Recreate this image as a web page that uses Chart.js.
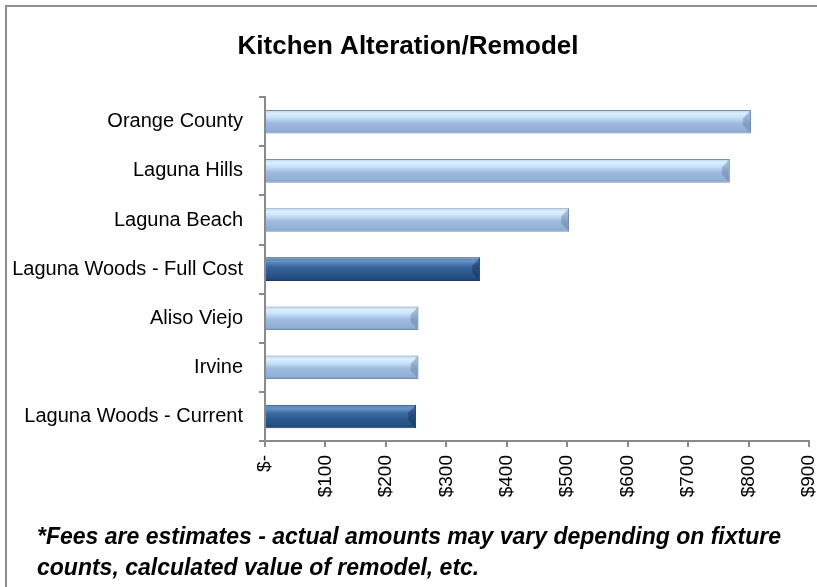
<!DOCTYPE html>
<html>
<head>
<meta charset="utf-8">
<script src="https://cdn.jsdelivr.net/npm/chart.js@4.4.1/dist/chart.umd.min.js"></script>
<style>
  html, body { margin: 0; padding: 0; background: #fff; overflow: hidden; }
  #wrap { position: relative; width: 817px; height: 587px; }
  #frame { position: absolute; left: 5px; top: 5px; width: 900px; height: 700px; border: 2px solid #8e8e8e; box-sizing: border-box; pointer-events: none; }
  canvas { position: absolute; left: 0; top: 0; }
  #note { position: absolute; left: 37px; top: 521px; font-family: 'Liberation Sans', Arial, sans-serif; font-size: 23px; font-weight: bold; font-style: italic; line-height: 31px; color: #000; white-space: nowrap; }
</style>
</head>
<body>
<div id="wrap">
  <canvas id="c" width="817" height="587"></canvas>
  <div id="note"></div>
  <div id="frame"></div>
</div>
<script>
// ---- data ----
const categories = ["Orange County", "Laguna Hills", "Laguna Beach", "Laguna Woods - Full Cost", "Aliso Viejo", "Irvine", "Laguna Woods - Current"];
const fees = [804, 769, 503, 356, 254, 254, 250];
const xTickValues = [0, 100, 200, 300, 400, 500, 600, 700, 800, 900];
const chartTitle = "Kitchen Alteration/Remodel";
const footnoteLines = ["*Fees are estimates - actual amounts may vary depending on fixture", "counts, calculated value of remodel, etc."];

const BAR_FRAC = 0.48;
const FONT = "'Liberation Sans', Arial, sans-serif";

document.getElementById('note').innerHTML = footnoteLines.map(s => s.replace(/&/g, '&amp;').replace(/</g, '&lt;')).join('<br>');

function isDark(i) { return categories[i].indexOf("Laguna Woods") === 0; }

function barFill(ctx) {
  const chart = ctx.chart;
  const dark = isDark(ctx.dataIndex);
  const fallback = dark ? '#2f5d93' : '#9fbde0';
  const ys = chart.scales && chart.scales.y;
  if (!ys || !chart.chartArea) return fallback;
  const c = ys.getPixelForValue(ctx.dataIndex);
  const half = ys.height / categories.length * BAR_FRAC / 2;
  if (!isFinite(c) || !isFinite(half)) return fallback;
  const g = chart.ctx.createLinearGradient(0, c - half, 0, c + half);
  if (dark) {
    g.addColorStop(0, '#5a86bb');
    g.addColorStop(0.18, '#6592c6');
    g.addColorStop(0.35, '#3f6ca2');
    g.addColorStop(0.6, '#2b5a90');
    g.addColorStop(0.88, '#244e80');
    g.addColorStop(1, '#1b3e66');
  } else {
    g.addColorStop(0, '#b7d0ec');
    g.addColorStop(0.15, '#dcf1ff');
    g.addColorStop(0.35, '#c3ddf6');
    g.addColorStop(0.55, '#9dbce0');
    g.addColorStop(0.88, '#92b0d5');
    g.addColorStop(1, '#7894b8');
  }
  return g;
}

// bevel on the right bar ends, drawn from the library's bar elements
const bevelPlugin = {
  id: 'bevel',
  afterDatasetsDraw(chart) {
    const meta = chart.getDatasetMeta(0);
    const ctx = chart.ctx;
    meta.data.forEach((bar, i) => {
      const p = bar.getProps(['x', 'y', 'base', 'height'], true);
      const top = p.y - p.height / 2 + 0.5, bot = p.y + p.height / 2 - 0.5;
      const b = Math.min(8, p.height / 3);
      const dark = isDark(i);
      ctx.save();
      ctx.beginPath();
      ctx.moveTo(p.x - b, top + b);
      ctx.lineTo(p.x - 0.5, top);
      ctx.lineTo(p.x - 0.5, bot);
      ctx.lineTo(p.x - b, bot - b);
      ctx.closePath();
      ctx.fillStyle = dark ? 'rgba(20,45,80,0.45)' : 'rgba(100,125,160,0.45)';
      ctx.fill();
      ctx.restore();
    });
  }
};

new Chart(document.getElementById('c'), {
  type: 'bar',
  data: {
    labels: categories,
    datasets: [{
      data: fees,
      backgroundColor: barFill,
      borderColor: (ctx) => isDark(ctx.dataIndex) ? '#1d3d63' : '#7390b3',
      borderWidth: 1,
      borderSkipped: 'start',
      categoryPercentage: 1,
      barPercentage: BAR_FRAC
    }]
  },
  options: {
    indexAxis: 'y',
    responsive: false,
    animation: false,
    devicePixelRatio: 1,
    layout: { padding: { left: 7, right: 8, top: 0, bottom: 66 } },
    plugins: {
      legend: { display: false },
      tooltip: { enabled: false },
      title: {
        display: true,
        text: chartTitle,
        color: '#000',
        font: { family: FONT, size: 26, weight: 'bold', lineHeight: 1.2 },
        padding: { top: 31, bottom: 35 }
      }
    },
    scales: {
      x: {
        type: 'linear',
        min: 0,
        max: 900,
        afterBuildTicks: (scale) => { scale.ticks = xTickValues.map(v => ({ value: v })); },
        afterFit: (scale) => { scale.height = 80; scale.paddingRight = 0; scale.paddingLeft = 0; },
        border: { display: true, color: '#8a8a8a', width: 2 },
        grid: { drawOnChartArea: false, drawTicks: true, tickLength: 6, color: '#8a8a8a', lineWidth: 2 },
        ticks: {
          minRotation: 90,
          maxRotation: 90,
          padding: 8,
          color: '#000',
          font: { family: FONT, size: 19 },
          callback: (v) => v === 0 ? '$-' : '$' + v
        }
      },
      y: {
        afterFit: (scale) => { scale.width = 258; scale.paddingTop = 0; scale.paddingBottom = 0; },
        border: { display: true, color: '#8a8a8a', width: 2 },
        grid: { drawOnChartArea: false, drawTicks: true, tickLength: 6, color: '#8a8a8a', lineWidth: 2, offset: true },
        ticks: {
          padding: 16,
          color: '#000',
          font: { family: FONT, size: 20 }
        }
      }
    }
  },
  plugins: [bevelPlugin]
});
</script>
</body>
</html>
